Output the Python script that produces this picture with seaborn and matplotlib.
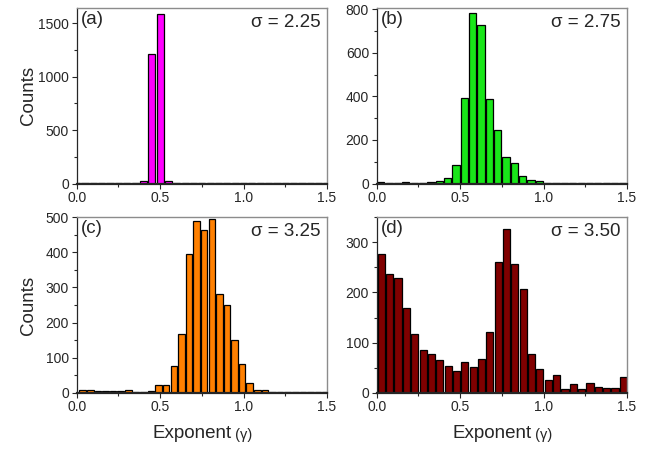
import numpy as np
import pandas as pd
import matplotlib
matplotlib.use("Agg")
import matplotlib.pyplot as plt
import seaborn as sns
from matplotlib.ticker import AutoMinorLocator, MultipleLocator, FormatStrFormatter

# histogram counts, one list per sigma
counts_a = [2, 3, 2, 3, 2, 4, 3, 8, 24, 1209, 1590, 25, 3, 2, 2,
            2, 2, 2, 2, 2, 2, 2, 2, 2, 2, 2, 2, 2, 2, 2, 2]
counts_b = [5, 4, 3, 6, 4, 3, 6, 11, 23, 87, 395, 783, 728, 388, 246,
            121, 95, 34, 17, 11, 2, 2, 2, 2, 2, 4, 2, 2, 2, 3]
counts_c = [7, 7, 6, 5, 5, 5, 7, 3, 2, 5, 22, 21, 76, 167, 395, 490, 465,
            495, 280, 251, 150, 81, 29, 7, 7, 2, 1, 1, 1, 1, 1, 1, 1]
counts_d = [277, 237, 229, 169, 117, 85, 77, 65, 54, 44, 61, 52, 67, 121, 261,
            327, 257, 207, 77, 47, 26, 35, 7, 17, 7, 19, 12, 9, 9, 31]

# bin start and width for each panel
bin_lo = [-0.025, 0.0, 0.0133, 0.003]
bin_w = [0.05, 0.05, 0.0455, 0.05]

sigmas = ["2.25", "2.75", "3.25", "3.50"]
tags = ["(a)", "(b)", "(c)", "(d)"]
colors = ["#ff00ff", "#19e619", "#ff8000", "#800000"]
ylims = [1640, 805, 500, 350]
ymajor = [500, 200, 100, 100]

sns.set_style("ticks")
plt.rcParams["font.family"] = ["Liberation Sans", "DejaVu Sans"]

fig = plt.figure(figsize=(6.63, 4.54), dpi=100)
W, H = 663, 454
boxes = [(76.7, 8.3, 327, 183.5), (376.7, 8.3, 627, 183.5),
         (76.7, 217.3, 327, 392.7), (376.7, 217.3, 627, 392.7)]

all_counts = [counts_a, counts_b, counts_c, counts_d]
for i, cnts in enumerate(all_counts):
    x0, y0, x1, y1 = boxes[i]
    ax = fig.add_axes([x0 / W, 1 - y1 / H, (x1 - x0) / W, (y1 - y0) / H])
    edges = bin_lo[i] + bin_w[i] * np.arange(len(cnts) + 1)
    df = pd.DataFrame({"gamma": edges[:-1] + bin_w[i] / 2, "n": cnts})
    sns.histplot(data=df, x="gamma", weights="n", bins=list(edges), ax=ax,
                 color=colors[i], edgecolor="black", linewidth=0.9,
                 alpha=1, shrink=0.86)
    ax.set_xlim(0, 1.5)
    ax.set_ylim(0, ylims[i])
    ax.xaxis.set_major_locator(MultipleLocator(0.5))
    ax.xaxis.set_minor_locator(AutoMinorLocator(2))
    ax.yaxis.set_major_locator(MultipleLocator(ymajor[i]))
    ax.yaxis.set_minor_locator(AutoMinorLocator(2))
    ax.xaxis.set_major_formatter(FormatStrFormatter("%.1f"))
    ax.tick_params(which="major", labelsize=10, length=3.5, width=0.8, pad=2)
    ax.tick_params(which="minor", length=2, width=0.8)
    for s in ["top", "right"]:
        ax.spines[s].set_color("#8c8c8c")
        ax.spines[s].set_linewidth(1.0)
    ax.spines["left"].set_linewidth(0.9)
    ax.spines["bottom"].set_linewidth(1.6)
    ax.set_ylabel("Counts" if i % 2 == 0 else "", fontsize=13.5)
    ax.yaxis.set_label_coords(-0.16, 0.5)
    ax.set_xlabel("")
    ax.text(0.015, 0.985, tags[i], transform=ax.transAxes, fontsize=13.5,
            ha="left", va="top")
    ax.text(0.975, 0.965, "σ = " + sigmas[i], transform=ax.transAxes,
            fontsize=13.5, ha="right", va="top")
    if i >= 2:
        lab = ax.set_xlabel("Exponent", fontsize=13.5, labelpad=8)
        lab.set_x(0.46)
        ax.annotate(" (γ)", xy=(1, 0.05), xycoords=lab, fontsize=10.5,
                    ha="left", va="bottom")

fig.savefig("out.png", dpi=100)
